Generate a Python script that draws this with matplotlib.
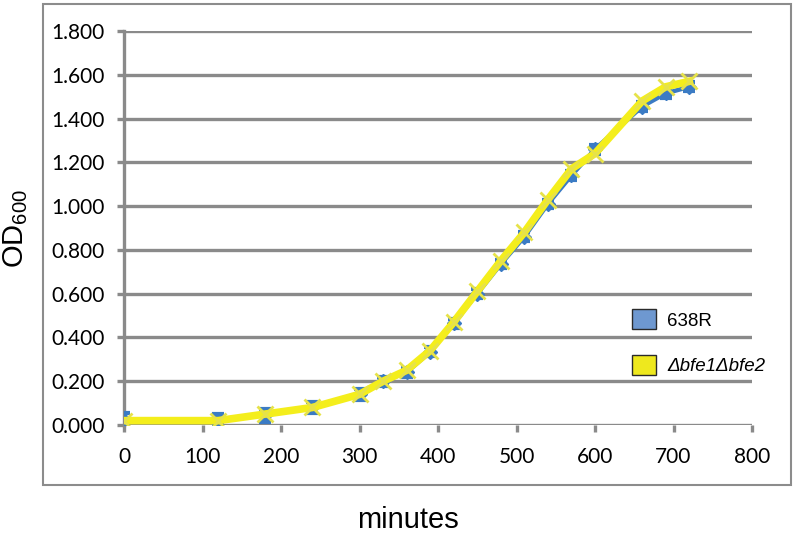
import matplotlib
matplotlib.use("Agg")
import matplotlib.pyplot as plt
from matplotlib.patches import Patch, Rectangle

minutes = [0, 120, 180, 240, 300, 330, 360, 390, 420, 450, 480, 510, 540, 570, 600, 660, 690, 720]
od_638R = [0.025, 0.025, 0.045, 0.08, 0.14, 0.20, 0.24, 0.335, 0.465, 0.60, 0.735, 0.86, 1.01, 1.14, 1.26, 1.455, 1.515, 1.545]
err_638R = [0.03, 0.025, 0.03, 0.025, 0.025, 0.02, 0.02, 0.02, 0.02, 0.02, 0.02, 0.02, 0.02, 0.02, 0.02, 0.02, 0.02, 0.02]
od_bfe = [0.02, 0.02, 0.05, 0.08, 0.14, 0.20, 0.25, 0.34, 0.47, 0.61, 0.75, 0.88, 1.03, 1.17, 1.24, 1.48, 1.545, 1.57]
x_ticks = [0, 100, 200, 300, 400, 500, 600, 700, 800]
y_ticks = [0.0, 0.2, 0.4, 0.6, 0.8, 1.0, 1.2, 1.4, 1.6, 1.8]
series_labels = ["638R", "Δbfe1Δbfe2"]

W, H = 796, 533
fig = plt.figure(figsize=(W / 100, H / 100), dpi=100)
ax = fig.add_axes([124 / W, 1 - 425 / H, (752 - 124) / W, (425 - 31) / H])

# outer chart frame
fig.patches.append(Rectangle((43 / W, 1 - 485 / H), (791 - 43) / W, (485 - 4) / H,
                             transform=fig.transFigure, fill=False,
                             edgecolor='#8c8c8c', linewidth=1.5, zorder=0))

grid_c = '#8a8a8a'
ax.set_xlim(0, 800)
ax.set_ylim(0, 1.8)
ax.set_yticks(y_ticks)
ax.set_xticks(x_ticks)
ax.set_yticklabels([f"{v:.3f}" for v in y_ticks])
ax.set_xticklabels([str(v) for v in x_ticks])
ax.grid(axis='y', color=grid_c, linewidth=2.4, zorder=0)
ax.set_axisbelow(True)
for s in ['top', 'right', 'bottom']:
    ax.spines[s].set_visible(False)
ax.spines['left'].set_color(grid_c)
ax.spines['left'].set_linewidth(2.4)
ax.tick_params(axis='y', length=5, width=2.4, color=grid_c, pad=9,
               labelsize=15, labelfontfamily='Lato')
ax.tick_params(axis='x', length=5, width=2.4, color=grid_c, pad=11,
               labelsize=15, labelfontfamily='Lato')

ax.errorbar(minutes, od_638R, yerr=err_638R, color='#3b7bc4', linewidth=3.2,
            marker='D', markersize=7, capsize=4, capthick=3, elinewidth=2, zorder=3)
ax.plot(minutes, od_bfe, color='#f4ee1c', linewidth=5.5, marker='x', markersize=12,
        markeredgewidth=2, markeredgecolor='#e6e24a', zorder=4)

fig.text(408 / W, 1 - 520 / H, "minutes", ha='center', va='center',
         fontsize=21, family='Liberation Sans')
fig.text(16 / W, 1 - 228 / H, r"OD$_{\mathregular{600}}$", ha='center', va='center',
         fontsize=21, family='Liberation Sans', rotation=90)

handles = [Patch(facecolor='#6e98d0', edgecolor='#2a2a2a', linewidth=1),
           Patch(facecolor='#eee81e', edgecolor='#2a2a2a', linewidth=1)]
leg = fig.legend(handles, series_labels, loc='upper left', bbox_to_anchor=(623 / W, 1 - 300 / H),
                 frameon=False, borderpad=0, handlelength=1.27, handleheight=1.27,
                 labelspacing=1.35, handletextpad=0.6,
                 prop={'family': 'Liberation Sans', 'size': 13.5})
leg.get_texts()[1].set_style('italic')

fig.savefig("out.png", dpi=100)
